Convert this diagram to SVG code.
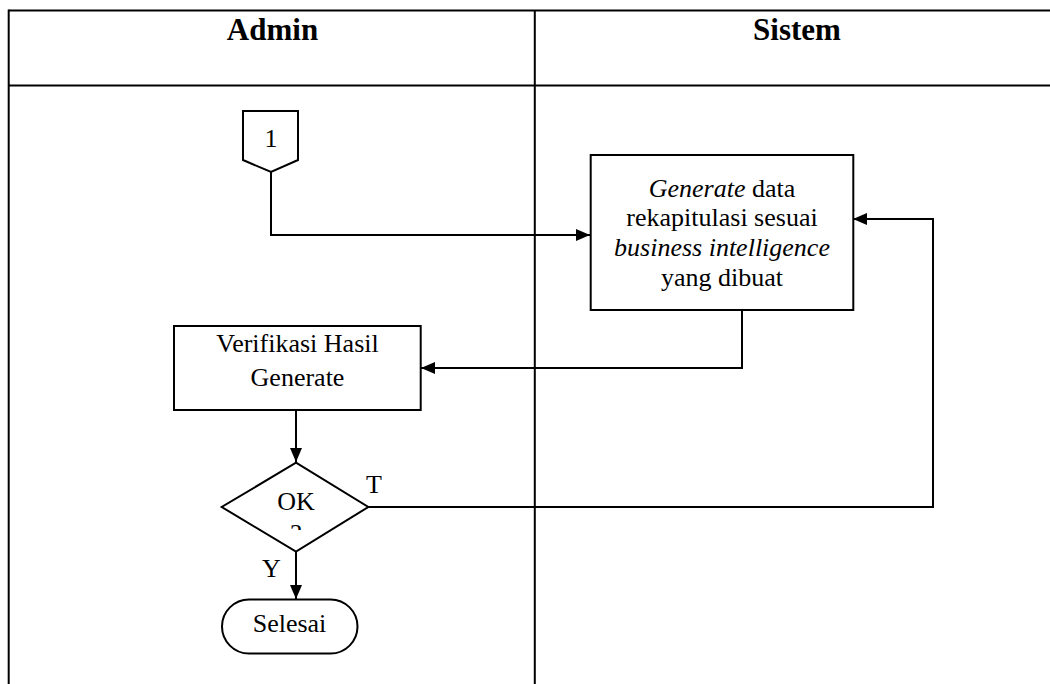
<svg xmlns="http://www.w3.org/2000/svg" width="1050" height="684" viewBox="0 0 1050 684">
<style>
.ln{stroke:#000;stroke-width:2;fill:none}
.shape{stroke:#000;stroke-width:2;fill:#fff}
.t{font-family:"Liberation Serif","Times New Roman",serif;font-size:26px;fill:#000;text-anchor:middle}
.h{font-family:"Liberation Serif","Times New Roman",serif;font-size:31px;font-weight:bold;fill:#000;text-anchor:middle}
.i{font-style:italic}
</style>
<defs>
<marker id="arr" markerUnits="userSpaceOnUse" markerWidth="14" markerHeight="12" refX="14" refY="6" orient="auto">
<path d="M0,0 L14,6 L0,12 z" fill="#000"/>
</marker>
<clipPath id="qclip"><rect x="270" y="515" width="50" height="15"/></clipPath>
</defs>
<rect width="1050" height="684" fill="#fff"/>
<g id="table">
<line class="ln" x1="8.7" y1="10.5" x2="1050" y2="10.5"/>
<line class="ln" x1="8.7" y1="85.5" x2="1050" y2="85.5"/>
<line class="ln" x1="8.7" y1="9.5" x2="8.7" y2="684"/>
<line class="ln" x1="534.8" y1="10.5" x2="534.8" y2="684"/>
<text class="h" x="272.5" y="39.5">Admin</text>
<text class="h" x="797" y="39.5">Sistem</text>
</g>
<g id="connectors">
<polyline class="ln" points="271,172 271,235 590,235" marker-end="url(#arr)"/>
<polyline class="ln" points="742,310 742,368 421,368" marker-end="url(#arr)"/>
<line class="ln" x1="296" y1="410" x2="296" y2="462" marker-end="url(#arr)"/>
<polyline class="ln" points="368,507 933,507 933,219 853,219" marker-end="url(#arr)"/>
<line class="ln" x1="296" y1="552" x2="296" y2="599" marker-end="url(#arr)"/>
</g>
<g id="node-offpage">
<polygon class="shape" points="243,111 298,111 298,160 271,172 243,160"/>
<text class="t" x="271" y="147">1</text>
</g>
<g id="node-generate">
<rect class="shape" x="590.7" y="155" width="262.6" height="155"/>
<text class="t" x="722" y="196.5"><tspan class="i">Generate</tspan> data</text>
<text class="t" x="722" y="226">rekapitulasi sesuai</text>
<text class="t i" x="722" y="255.7">business intelligence</text>
<text class="t" x="722" y="285.5">yang dibuat</text>
</g>
<g id="node-verifikasi">
<rect class="shape" x="174" y="326" width="246.7" height="84"/>
<text class="t" x="297.5" y="352.3">Verifikasi Hasil</text>
<text class="t" x="297.5" y="385.7">Generate</text>
</g>
<g id="node-ok">
<polygon class="shape" points="296,462.7 368.3,507 296,551.7 221.7,507"/>
<text class="t" x="296" y="510">OK</text>
<text class="t" x="296" y="542" clip-path="url(#qclip)">?</text>
</g>
<g id="labels">
<text class="t" x="374" y="492.7">T</text>
<text class="t" x="271.5" y="577">Y</text>
</g>
<g id="node-selesai">
<rect class="shape" x="222" y="599.5" width="135.5" height="54" rx="27" ry="27"/>
<text class="t" x="289.5" y="632">Selesai</text>
</g>
</svg>
